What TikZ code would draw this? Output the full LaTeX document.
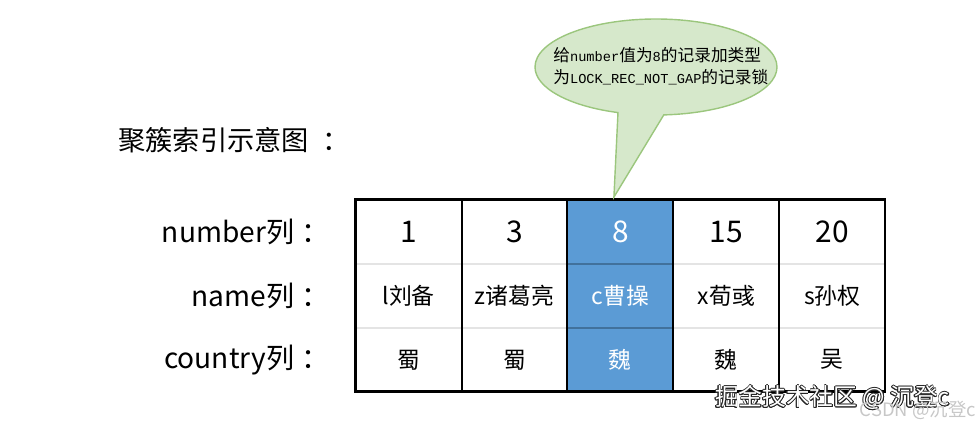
\documentclass[tikz,border=0pt]{standalone}
\usepackage{fontspec}
\setmainfont{Noto Sans CJK SC}
\newfontfamily\codefont[Scale=0.82]{Liberation Mono}
\usepackage[copies]{contour}
\usetikzlibrary{positioning,shapes.callouts}
\definecolor{cellblue}{RGB}{91,155,213}
\definecolor{sepblue}{RGB}{65,113,156}
\definecolor{sepgray}{RGB}{228,228,228}
\definecolor{bubblefill}{RGB}{214,232,203}
\definecolor{bubbleline}{RGB}{155,198,125}

\tikzset{
  cell/.style={minimum width=2.104cm, minimum height=1.267cm, inner sep=0pt, fill=white},
  hot/.style={cell, fill=cellblue, text=white},
  numtxt/.style={font=\fontsize{17}{20}\selectfont},
  nametxt/.style={font=\fontsize{13}{16}\selectfont},
  rowlabel/.style={inner sep=0pt, font=\fontsize{16}{19}\selectfont},
  grid/.style={line width=1.1pt, black},
  frame/.style={line width=1.5pt, black},
  sep/.style={line width=1.2pt, sepgray},
  hotsep/.style={line width=1.2pt, sepblue}
}

\begin{document}
\begin{tikzpicture}
  \useasboundingbox (0,0) rectangle (19.58,8.56);

  %--- title ---
  \node[anchor=west, inner sep=0pt, font=\fontsize{15.5}{18}\selectfont] (title) at (2.36,5.76) {聚簇索引示意图\kern0.5em：};

  %--- number row ---
  \node[cell, numtxt] (num1) at (8.172,3.927) {1};
  \node[cell, numtxt, right=0pt of num1] (num2) {3};
  \node[hot, numtxt, right=0pt of num2] (num3) {8};
  \node[cell, numtxt, right=0pt of num3] (num4) {15};
  \node[cell, numtxt, right=0pt of num4] (num5) {20};

  %--- name row ---
  \node[cell, nametxt, below=0pt of num1] (nam1) {l刘备};
  \node[cell, nametxt, below=0pt of num2] (nam2) {z诸葛亮};
  \node[hot, nametxt, below=0pt of num3] (nam3) {c曹操};
  \node[cell, nametxt, below=0pt of num4] (nam4) {x荀彧};
  \node[cell, nametxt, below=0pt of num5] (nam5) {s孙权};

  %--- country row ---
  \node[cell, nametxt, below=0pt of nam1] (cty1) {蜀};
  \node[cell, nametxt, below=0pt of nam2] (cty2) {蜀};
  \node[hot, nametxt, below=0pt of nam3] (cty3) {魏};
  \node[cell, nametxt, below=0pt of nam4] (cty4) {魏};
  \node[cell, nametxt, below=0pt of nam5] (cty5) {吴};

  %--- row separators ---
  \draw[sep] (num1.south west) -- (num5.south east);
  \draw[sep] (nam1.south west) -- (nam5.south east);
  \draw[hotsep] (num3.south west) -- (num3.south east);
  \draw[hotsep] (nam3.south west) -- (nam3.south east);

  %--- column lines and frame ---
  \draw[grid] (num1.north east) -- (cty1.south east);
  \draw[grid] (num2.north east) -- (cty2.south east);
  \draw[grid] (num3.north east) -- (cty3.south east);
  \draw[grid] (num4.north east) -- (cty4.south east);
  \draw[frame] (num1.north west) rectangle (cty5.south east);

  %--- row labels ---
  \node[rowlabel, left=0.52cm of num1] (lnum) {number列\kern0.25em：};
  \node[rowlabel, left=0.52cm of nam1] (lnam) {name列\kern0.25em：};
  \node[rowlabel, left=0.52cm of cty1] (lcty) {country列\kern0.25em：};

  %--- callout ---
  \node[ellipse callout, draw=bubbleline, fill=bubblefill, line width=0.8pt,
        minimum width=4.84cm, minimum height=1.92cm, callout pointer arc=22,
        callout absolute pointer={([xshift=-0.13cm,yshift=0.05cm]num3.north)}] (bubble) at (13.12,7.22) {};
  \node[anchor=west, align=left, inner sep=0pt, font=\fontsize{9.5}{12.5}\selectfont] (note) at (11.06,7.24)
    {给{\codefont number}值为{\codefont 8}的记录加类型\\为{\codefont LOCK\_REC\_NOT\_GAP}的记录锁};

  %--- watermark ---
  \node[inner sep=0pt, font=\fontsize{13.5}{15}\selectfont] (wmark) at (16.65,0.6)
    {\contour{black!85}{\textcolor{white}{掘金技术社区 @ 沉登c}}};
  \node[inner sep=0pt, text=black!22, font=\fontsize{10.5}{12}\selectfont] (csdn) at (18.36,0.36) {CSDN @沉登c};
\end{tikzpicture}
\end{document}
